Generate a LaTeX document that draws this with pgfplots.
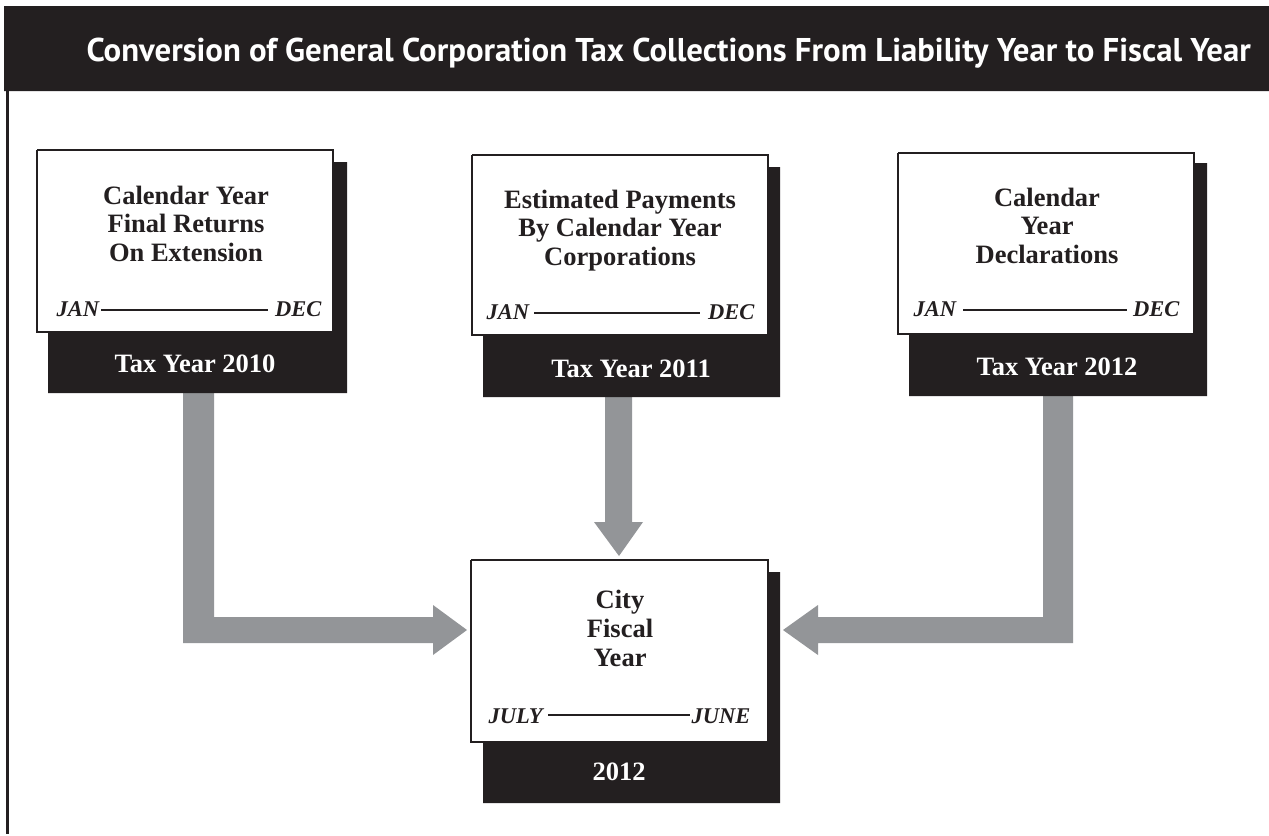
\documentclass[border=0pt]{standalone}
\usepackage{graphicx}
\usepackage{pgfplots}
\pgfplotsset{compat=1.18}
\usepackage{fontspec}
\setmainfont{Liberation Serif}
\newfontfamily\titlefont{PT Sans}
\definecolor{ink}{HTML}{231F20}
\definecolor{arrowgray}{HTML}{939598}
\newcommand\boxfont{\bfseries\fontsize{26.5}{28}\selectfont}
\newcommand\monthfont{\bfseries\itshape\fontsize{22.5}{26}\selectfont}
\begin{document}
\begin{tikzpicture}
\begin{axis}[
  scale only axis, width=1269pt, height=834pt,
  xmin=0, xmax=1269, ymin=0, ymax=834, y dir=reverse,
  hide axis, clip=false,
  every node/.style={inner sep=0pt},
]
% background
\addplot[fill=white, draw=none] coordinates {(0,0) (1269,0) (1269,834) (0,834) (0,0)};
% header bar
\addplot[fill=ink, draw=none] coordinates {(4,6) (1269,6) (1269,91) (4,91) (4,6)};
% left frame line
\addplot[draw=ink, line width=2.6pt] coordinates {(7.2,91) (7.2,834)};

% arrows
\addplot[fill=arrowgray, draw=none] coordinates {(183,390) (214,390) (214,617) (433,617) (433,605) (467,630) (433,655) (433,643) (183,643) (183,390)};
\addplot[fill=arrowgray, draw=none] coordinates {(1073,393) (1043,393) (1043,617) (818,617) (818,605) (783,630) (818,655) (818,643) (1073,643) (1073,393)};
\addplot[fill=arrowgray, draw=none] coordinates {(605,394) (632,394) (632,522) (643,522) (619,556) (594,522) (605,522) (605,394)};

% box 1
\addplot[fill=ink, draw=none] coordinates {(48,162) (347,162) (347,393) (48,393) (48,162)};
\addplot[fill=white, draw=ink, line width=1.8pt] coordinates {(37,150) (333,150) (333,332) (37,332) (37,150)};
\addplot[draw=ink, line width=2pt] coordinates {(101,310) (268,310)};
% box 2
\addplot[fill=ink, draw=none] coordinates {(483,167) (780,167) (780,397) (483,397) (483,167)};
\addplot[fill=white, draw=ink, line width=1.8pt] coordinates {(472,155) (768,155) (768,335) (472,335) (472,155)};
\addplot[draw=ink, line width=2pt] coordinates {(534,313) (700,313)};
% box 3
\addplot[fill=ink, draw=none] coordinates {(909,163) (1207,163) (1207,396) (909,396) (909,163)};
\addplot[fill=white, draw=ink, line width=1.8pt] coordinates {(898,153) (1194,153) (1194,334) (898,334) (898,153)};
\addplot[draw=ink, line width=2pt] coordinates {(963,310) (1127,310)};
% centre box
\addplot[fill=ink, draw=none] coordinates {(483,572) (780,572) (780,803) (483,803) (483,572)};
\addplot[fill=white, draw=ink, line width=1.8pt] coordinates {(471,560) (768,560) (768,742) (471,742) (471,560)};
\addplot[draw=ink, line width=2pt] coordinates {(548,715) (690,715)};

% title
\node[anchor=base west, text=white] at (axis cs:83,61)
  {\resizebox{1164pt}{23.5pt}{\titlefont\bfseries Conversion of General Corporation Tax Collections From Liability Year to Fiscal Year}};

% box 1 text
\node[anchor=base, text=ink] at (axis cs:186,204) {\boxfont Calendar Year};
\node[anchor=base, text=ink] at (axis cs:186,232) {\boxfont Final Returns};
\node[anchor=base, text=ink] at (axis cs:186,261) {\boxfont On Extension};
\node[anchor=base west, text=ink] at (axis cs:53,316) {\monthfont JAN};
\node[anchor=base east, text=ink] at (axis cs:325,316) {\monthfont DEC};
\node[anchor=base, text=white] at (axis cs:195,372) {\boxfont Tax Year 2010};

% box 2 text
\node[anchor=base, text=ink] at (axis cs:620,208) {\boxfont Estimated Payments};
\node[anchor=base, text=ink] at (axis cs:620,236) {\boxfont By Calendar Year};
\node[anchor=base, text=ink] at (axis cs:620,265) {\boxfont Corporations};
\node[anchor=base west, text=ink] at (axis cs:483,319) {\monthfont JAN};
\node[anchor=base east, text=ink] at (axis cs:758,319) {\monthfont DEC};
\node[anchor=base, text=white] at (axis cs:631,377) {\boxfont Tax Year 2011};

% box 3 text
\node[anchor=base, text=ink] at (axis cs:1047,206) {\boxfont Calendar};
\node[anchor=base, text=ink] at (axis cs:1047,234) {\boxfont Year};
\node[anchor=base, text=ink] at (axis cs:1047,263) {\boxfont Declarations};
\node[anchor=base west, text=ink] at (axis cs:910,316) {\monthfont JAN};
\node[anchor=base east, text=ink] at (axis cs:1183,316) {\monthfont DEC};
\node[anchor=base, text=white] at (axis cs:1057,375) {\boxfont Tax Year 2012};

% centre box text
\node[anchor=base, text=ink] at (axis cs:620,608) {\boxfont City};
\node[anchor=base, text=ink] at (axis cs:620,637) {\boxfont Fiscal};
\node[anchor=base, text=ink] at (axis cs:620,666) {\boxfont Year};
\node[anchor=base west, text=ink] at (axis cs:485,723) {\monthfont JULY};
\node[anchor=base east, text=ink] at (axis cs:754,723) {\monthfont JUNE};
\node[anchor=base, text=white] at (axis cs:619,780) {\boxfont 2012};
\end{axis}
\end{tikzpicture}
\end{document}
